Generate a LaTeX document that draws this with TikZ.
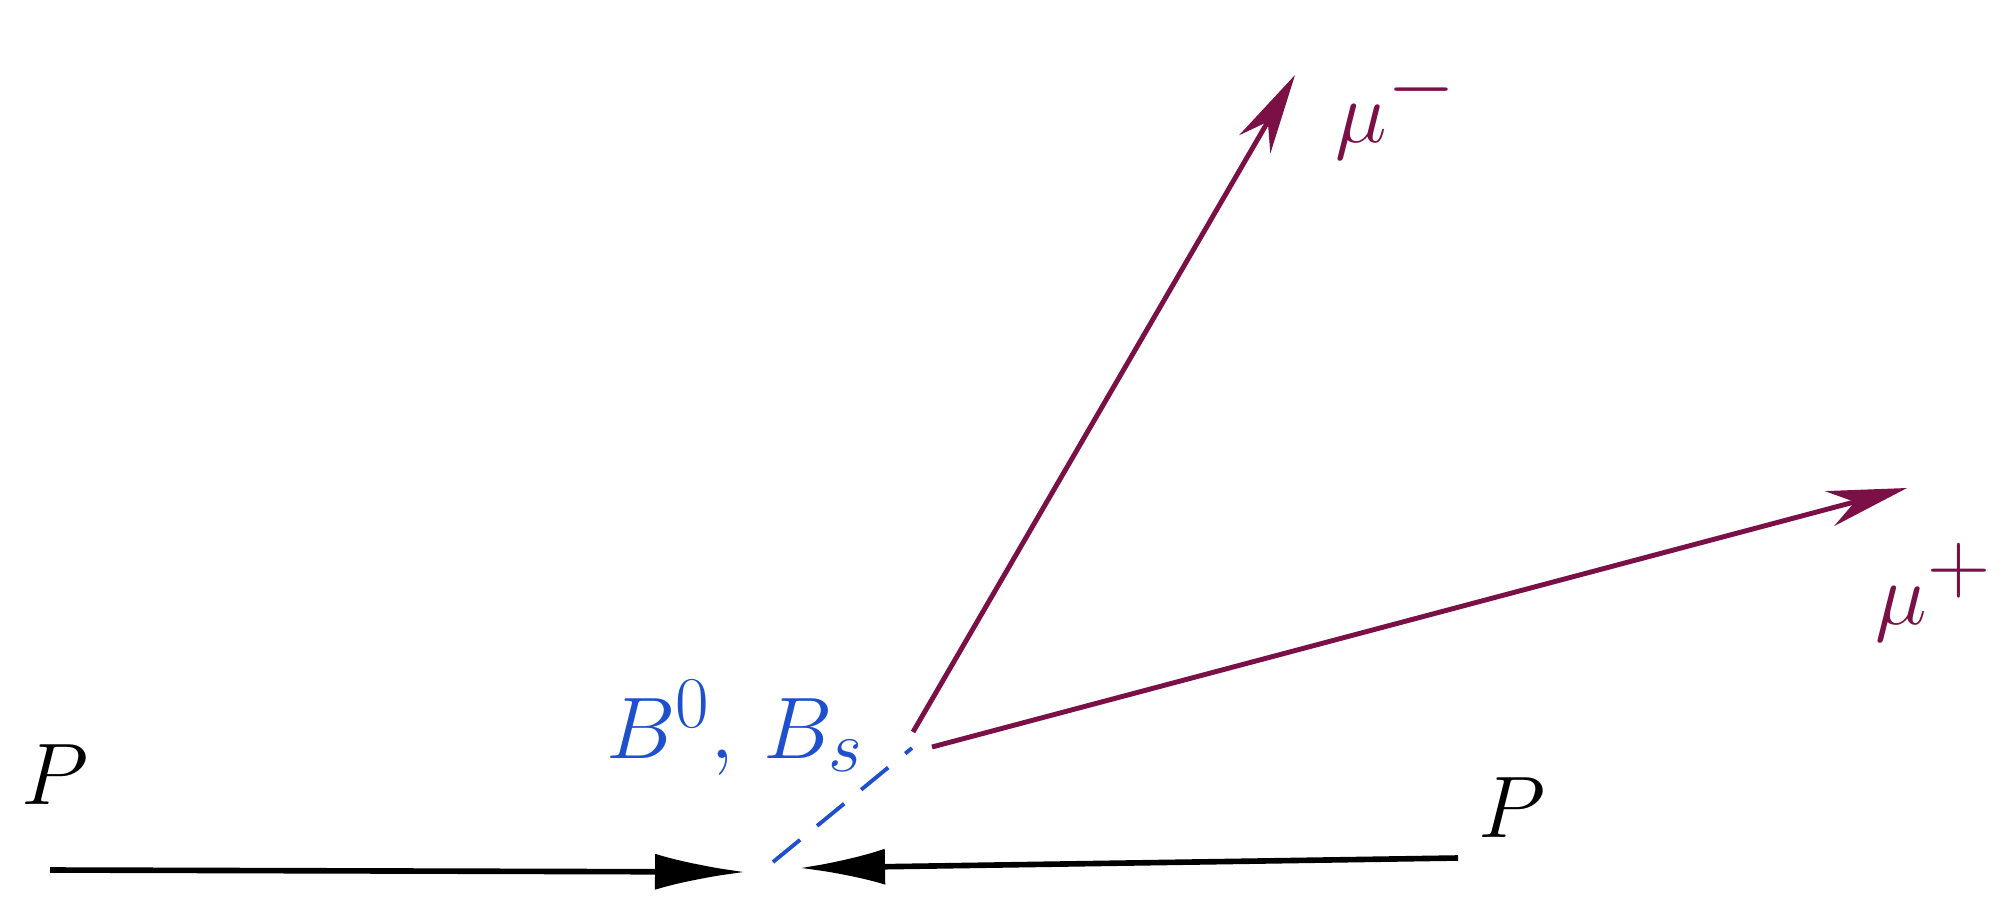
\documentclass[tikz,border=0pt]{standalone}
\usepackage{amsmath}
\usepackage{xcolor}
\usepackage{tikz}
\usetikzlibrary{arrows.meta,positioning}
\definecolor{muonred}{RGB}{122, 16, 70}
\definecolor{mesonblue}{RGB}{30, 80, 205}

\begin{document}
\begin{tikzpicture}[x=0.1mm, y=-0.1mm]
 \clip (0,0) rectangle (2008,897);

 \coordinate (pinL) at (50,870);
 \coordinate (vtxL) at (745,872);
 \coordinate (pinR) at (1458,858);
 \coordinate (vtxR) at (800,868);
 \coordinate (bprod) at (773,862);
 \coordinate (bdec) at (912,748);
 \coordinate (mumS) at (913,732);
 \coordinate (mumE) at (1295,75);
 \coordinate (mupS) at (932,747);
 \coordinate (mupE) at (1907,488);

 \node[font=\fontsize{34}{40}\selectfont, inner sep=0pt] (plabL) at (55,775) {$P$};
 \node[font=\fontsize{34}{40}\selectfont, inner sep=0pt] (plabR) at (1512,808) {$P$};
 \node[font=\fontsize{30}{36}\selectfont, text=mesonblue, inner sep=0pt] (blab) at (735,728) {$B^0,\,B_s$};
 \node[font=\fontsize{42}{48}\selectfont, text=muonred, inner sep=0pt, anchor=west] (mumlab) at (1335,110) {$\mu^-$};
 \node[font=\fontsize{36}{42}\selectfont, text=muonred, inner sep=0pt, anchor=west] (muplab) at (1875,592) {$\mu^+$};

 \draw[-{Latex[length=9mm, width=3.6mm]}, line width=1.6pt, draw=black] (pinL) -- (vtxL);
 \draw[-{Latex[length=8.5mm, width=3.6mm]}, line width=1.6pt, draw=black] (pinR) -- (vtxR);
 \draw[line width=1.1pt, draw=mesonblue, dash pattern=on 3.5mm off 2.2mm] (bprod) -- (bdec);
 \draw[-{Stealth[length=8mm, width=3.6mm]}, line width=1.4pt, draw=muonred] (mumS) -- (mumE);
 \draw[-{Stealth[length=8mm, width=3.6mm]}, line width=1.4pt, draw=muonred] (mupS) -- (mupE);
 \end{tikzpicture}
\end{document}
